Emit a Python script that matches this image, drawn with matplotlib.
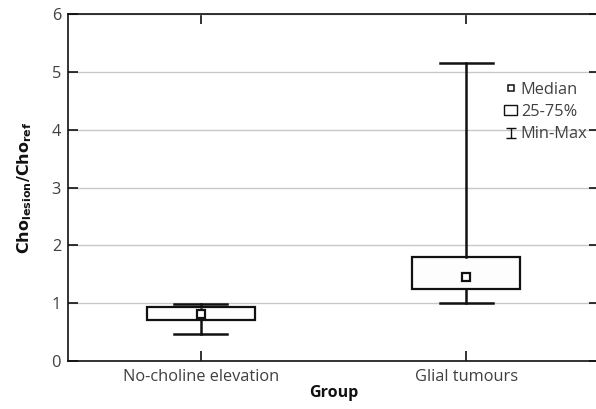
import matplotlib
matplotlib.use("Agg")
import matplotlib.pyplot as plt
from matplotlib.lines import Line2D
from matplotlib.patches import Rectangle
from matplotlib.path import Path

groups = ["No-choline elevation", "Glial tumours"]
mins = [0.47, 1.00]
q1s = [0.71, 1.24]
medians = [0.82, 1.46]
q3s = [0.93, 1.79]
maxs = [0.99, 5.15]
yticks = [0, 1, 2, 3, 4, 5, 6]

plt.rcParams['font.family'] = ['Open Sans', 'DejaVu Sans']
txt = '#404040'

fig = plt.figure(figsize=(5.96, 4.09), dpi=100)
ax = fig.add_axes([68/596, 1-361/409, (599-68)/596, (361-14)/409])

stats = []
for i, g in enumerate(groups):
    stats.append(dict(label=g, whislo=mins[i], q1=q1s[i], med=medians[i],
                      q3=q3s[i], whishi=maxs[i], fliers=[]))
pos = list(range(len(groups)))
ax.bxp(stats, positions=pos, widths=0.405, capwidths=0.2, patch_artist=True,
       showfliers=False,
       boxprops=dict(facecolor='#fdfdfd', edgecolor='#111111', linewidth=1.6),
       whiskerprops=dict(color='#111111', linewidth=1.8),
       capprops=dict(color='#111111', linewidth=1.8),
       medianprops=dict(linestyle='none'), zorder=3)
ax.plot(pos, medians, linestyle='none', marker='s', markersize=5.5,
        markerfacecolor='white', markeredgecolor='#111111', markeredgewidth=1.6, zorder=4)

ax.set_xlim(-0.5, 1.5)
ax.set_ylim(0, 6)
ax.set_yticks(yticks)
ax.set_xticks(pos)
ax.set_xticklabels(groups)
ax.yaxis.grid(True, color='#c8c8c8', linewidth=1.0)
ax.set_axisbelow(True)
ax.tick_params(direction='in', length=7, width=1.2, top=True, right=True,
               labelsize=11.8, colors='#111111')
ax.tick_params(axis='both', labelcolor=txt)
ax.tick_params(axis='x', pad=6)
ax.tick_params(axis='y', pad=5)
for s in ax.spines.values():
    s.set_linewidth(1.2)
    s.set_color('#111111')
ax.set_xlabel('Group', fontsize=11.5, fontweight='bold', color='#111111', labelpad=0)
ax.set_ylabel(r'$\mathbf{Cho_{lesion}/Cho_{ref}}$', fontsize=11.5, color='#111111', labelpad=13)

ibeam = Path([(-0.5, 0.5), (0.5, 0.5), (0, 0.5), (0, -0.5), (-0.5, -0.5), (0.5, -0.5)],
             [Path.MOVETO, Path.LINETO, Path.MOVETO, Path.LINETO, Path.MOVETO, Path.LINETO])
handles = [
    Line2D([], [], linestyle='none', marker='s', markersize=4.0, markerfacecolor='white',
           markeredgecolor='#111111', markeredgewidth=1.1),
    Rectangle((0, 0), 1, 1, facecolor='white', edgecolor='#111111', linewidth=1.0),
    Line2D([], [], linestyle='none', marker=ibeam, markersize=6.5, markerfacecolor='none',
           markeredgecolor='#111111', markeredgewidth=1.0),
]
leg = ax.legend(handles, ['Median', '25-75%', 'Min-Max'], loc='upper left',
                bbox_to_anchor=(0.822, 0.805), frameon=False, fontsize=11.8,
                handlelength=0.75, handleheight=0.6, handletextpad=0.25,
                labelspacing=0.38, borderaxespad=0, borderpad=0)
for t in leg.get_texts():
    t.set_color(txt)

fig.savefig('out.png', dpi=100)
